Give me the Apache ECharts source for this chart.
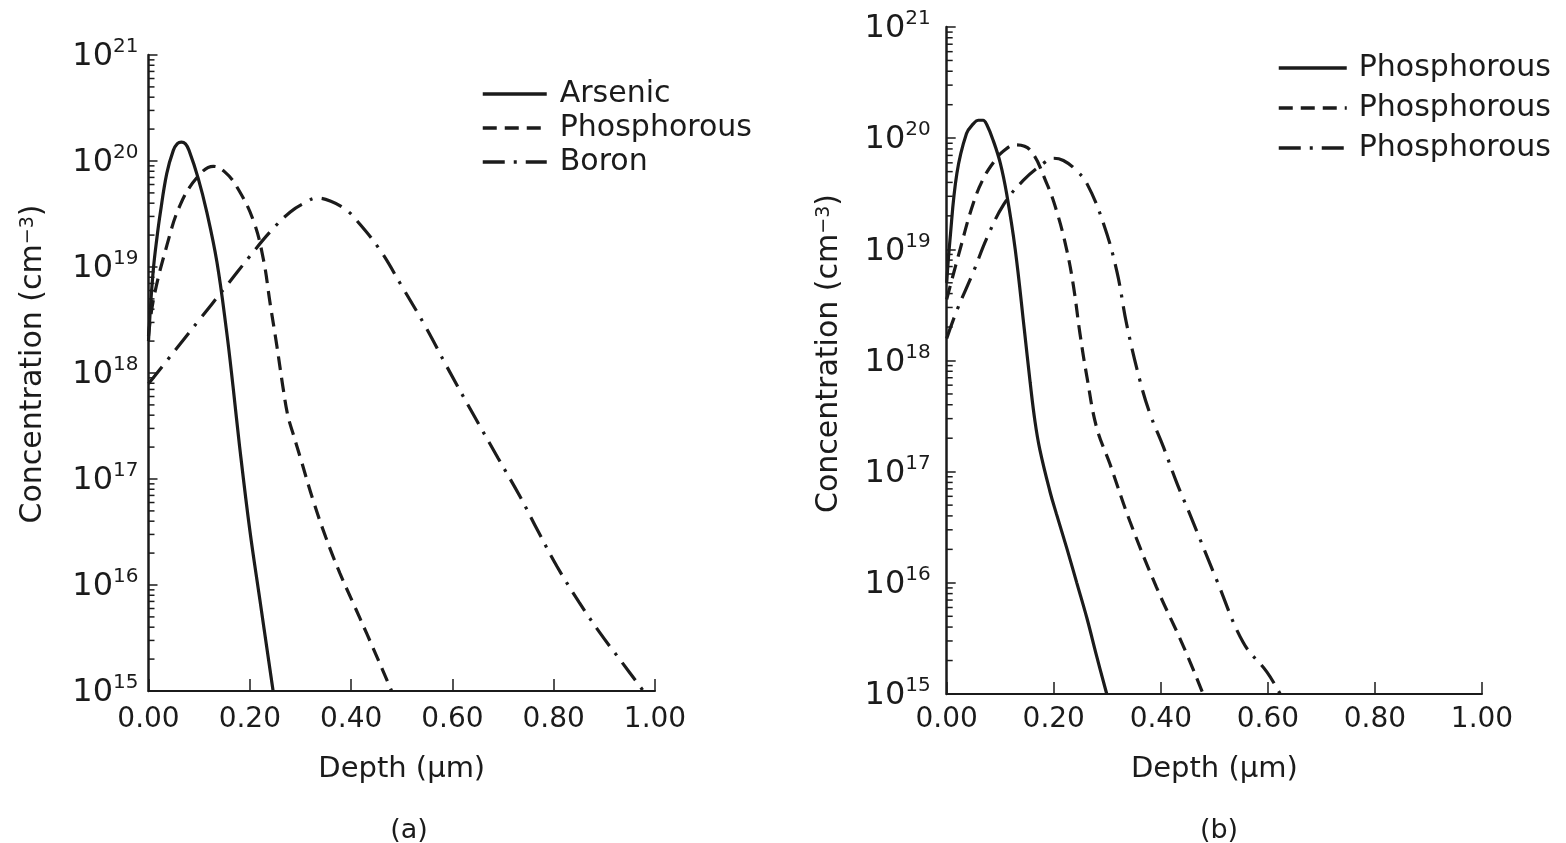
<!DOCTYPE html>
<html>
<head>
<meta charset="utf-8">
<title>Dopant depth profiles</title>
<script src="https://cdn.jsdelivr.net/npm/echarts@6/dist/echarts.min.js"></script>
<style>
  html, body { margin: 0; padding: 0; background: #ffffff; }
  #chart { width: 1566px; height: 843px; }
</style>
</head>
<body>
<div id="chart"></div>
<script>
// ---- Panel (a): depth in µm, concentration in cm^-3 ----
const depthArsenicA = [0, 0.005, 0.01, 0.016, 0.023, 0.036, 0.049, 0.057, 0.065, 0.073, 0.08, 0.098, 0.115, 0.135, 0.154, 0.167, 0.18, 0.2, 0.22, 0.246];
const concArsenicA  = [2.0e18, 5.0e18, 1.0e19, 1.78e19, 3.16e19, 7.6e19, 1.26e20, 1.46e20, 1.51e20, 1.45e20, 1.26e20, 6.9e19, 3.31e19, 1.12e19, 2.51e18, 7.4e17, 2.0e17, 3.3e16, 7.2e15, 1.0e15];

const depthPhosA = [0, 0.01, 0.036, 0.062, 0.095, 0.128, 0.15, 0.174, 0.207, 0.227, 0.24, 0.253, 0.265, 0.275, 0.286, 0.3, 0.325, 0.35, 0.378, 0.405, 0.431, 0.455, 0.48];
const concPhosA  = [2.24e18, 5.0e18, 1.58e19, 3.8e19, 6.9e19, 8.91e19, 7.94e19, 5.75e19, 2.75e19, 1.17e19, 4.57e18, 1.86e18, 7.6e17, 3.98e17, 2.63e17, 1.58e17, 6.3e16, 2.82e16, 1.29e16, 6.6e15, 3.47e15, 1.9e15, 1.0e15];

const depthBoronA = [0, 0.05, 0.1, 0.15, 0.2, 0.24, 0.28, 0.31, 0.332, 0.36, 0.39, 0.411, 0.457, 0.5, 0.549, 0.589, 0.64, 0.69, 0.733, 0.77, 0.806, 0.85, 0.891, 0.935, 0.977];
const concBoronA  = [7.9e17, 1.58e18, 3.16e18, 6.3e18, 1.26e19, 2.14e19, 3.31e19, 4.07e19, 4.47e19, 4.17e19, 3.47e19, 2.75e19, 1.45e19, 6.6e18, 2.63e18, 1.15e18, 4.17e17, 1.58e17, 6.9e16, 3.16e16, 1.51e16, 6.9e15, 3.55e15, 1.86e15, 1.0e15];

// ---- Panel (b): three phosphorous profiles ----
const depthPhosB1 = [0, 0.006, 0.019, 0.037, 0.05, 0.059, 0.068, 0.075, 0.087, 0.1, 0.112, 0.128, 0.145, 0.156, 0.165, 0.174, 0.193, 0.205, 0.225, 0.243, 0.262, 0.28, 0.299];
const concPhosB1  = [5.0e18, 1.2e19, 4.8e19, 1.1e20, 1.35e20, 1.45e20, 1.45e20, 1.32e20, 9.5e19, 6.0e19, 3.16e19, 1.0e19, 1.9e18, 6.3e17, 2.82e17, 1.58e17, 6.6e16, 4.17e16, 2.0e16, 1.0e16, 4.8e15, 2.2e15, 1.0e15];

const depthPhosB2 = [0, 0.025, 0.05, 0.07, 0.09, 0.105, 0.128, 0.156, 0.187, 0.205, 0.224, 0.237, 0.249, 0.262, 0.28, 0.305, 0.342, 0.392, 0.442, 0.479];
const concPhosB2  = [3.55e18, 1.0e19, 2.63e19, 4.47e19, 6.3e19, 7.6e19, 8.7e19, 7.8e19, 3.9e19, 2.24e19, 1.0e19, 4.6e18, 1.74e18, 7.1e17, 2.5e17, 1.17e17, 3.6e16, 9.1e15, 2.7e15, 1.0e15];

const depthPhosB3 = [0, 0.019, 0.05, 0.075, 0.106, 0.143, 0.18, 0.2, 0.218, 0.24, 0.262, 0.293, 0.318, 0.336, 0.361, 0.38, 0.405, 0.43, 0.454, 0.504, 0.554, 0.598, 0.623];
const concPhosB3  = [1.58e18, 2.82e18, 6.3e18, 1.26e19, 2.51e19, 4.17e19, 5.9e19, 6.6e19, 6.3e19, 5.25e19, 3.9e19, 1.7e19, 6.3e18, 2.14e18, 6.6e17, 3.3e17, 1.66e17, 7.9e16, 4.17e16, 1.07e16, 2.9e15, 1.58e15, 1.0e15];

// ---- Axis ranges and tick positions ----
const depthMin = 0, depthMax = 1, depthStep = 0.2;
const concMin = 1e15, concMax = 1e21;
const minorMantissas = [2, 3, 4, 5, 6, 7, 8, 9];
const decadeExponents = [15, 16, 17, 18, 19, 20];

const legendNamesA = ['Arsenic', 'Phosphorous', 'Boron'];
const legendNamesB = ['Phosphorous', 'Phosphorous', 'Phosphorous'];
const panelCaptions = ['(a)', '(b)'];

// ---- Styling ----
const INK = '#1b1b1b';
const FONT = 'DejaVu Sans';
const DASHED = [14, 8];
const DASH_DOT = [22, 9, 3, 9];

const pairs = (xs, ys) => xs.map((x, i) => [x, ys[i]]);
const minorTickValues = [];
decadeExponents.forEach(e => minorMantissas.forEach(m => minorTickValues.push([0, m * Math.pow(10, e)])));

function profile(name, xs, ys, dash, gi) {
  return {
    type: 'line', name: name, xAxisIndex: gi, yAxisIndex: gi,
    data: pairs(xs, ys), symbol: 'none', smooth: 0.4,
    lineStyle: { color: INK, width: 3.2, type: dash, cap: 'butt' },
    itemStyle: { color: INK }, z: 3, animation: false
  };
}

function minorTicks(gi) {
  return {
    type: 'custom', xAxisIndex: gi, yAxisIndex: gi, silent: true, animation: false, z: 4,
    data: minorTickValues,
    renderItem: (params, api) => {
      const p = api.coord([0, api.value(1)]);
      return { type: 'line', shape: { x1: p[0], y1: p[1], x2: p[0] + 6, y2: p[1] },
               style: { stroke: INK, lineWidth: 1.5 } };
    }
  };
}

function xAxisFor(gi, labelMargin, nameGap) {
  return {
    type: 'value', gridIndex: gi, min: depthMin, max: depthMax, interval: depthStep,
    name: 'Depth (μm)', nameLocation: 'middle', nameGap: nameGap,
    nameTextStyle: { fontFamily: FONT, fontSize: 29, color: INK },
    axisLine: { show: true, onZero: false, lineStyle: { color: INK, width: 2 } },
    axisTick: { show: true, inside: true, length: 12, lineStyle: { color: INK, width: 1.5 } },
    axisLabel: { margin: labelMargin, fontFamily: FONT, fontSize: 28, color: INK,
                 showMinLabel: true, showMaxLabel: true, formatter: v => v.toFixed(2) },
    splitLine: { show: false }
  };
}

function yAxisFor(gi, labelMargin, nameGap, nameShift) {
  return {
    type: 'log', logBase: 10, gridIndex: gi, min: concMin, max: concMax, splitNumber: 6,
    name: '{n|Concentration (cm}{s|−3}{n|)}', nameLocation: 'middle', nameRotate: 90, nameGap: nameGap,
    nameTextStyle: { fontFamily: FONT, color: INK, padding: [0, 0, 0, nameShift],
      rich: { n: { fontFamily: FONT, fontSize: 30, color: INK },
              s: { fontFamily: FONT, fontSize: 19, color: INK, verticalAlign: 'top', lineHeight: 10 } } },
    axisLine: { show: true, onZero: false, lineStyle: { color: INK, width: 2.5 } },
    axisTick: { show: true, inside: true, length: 9, lineStyle: { color: INK, width: 1.5 } },
    axisLabel: { margin: labelMargin, showMinLabel: true, showMaxLabel: true,
      formatter: v => '{b|10}{s|' + Math.round(Math.log10(v)) + '}',
      rich: { b: { fontFamily: FONT, fontSize: 32, color: INK, padding: [4, 0, 0, 0] },
              s: { fontFamily: FONT, fontSize: 20, color: INK, verticalAlign: 'top', lineHeight: 8 } } },
    splitLine: { show: false }, minorTick: { show: false }
  };
}

const legendBase = {
  orient: 'vertical', padding: 0, itemGap: 0, itemHeight: 14,
  selectedMode: false,
  itemStyle: { opacity: 0 },
  lineStyle: { width: 3.5 }
};

const option = {
  backgroundColor: '#ffffff',
  animation: false,
  title: [
    { text: panelCaptions[0], left: 404, top: 812, textAlign: 'center',
      textStyle: { fontFamily: FONT, fontSize: 27, fontWeight: 'normal', color: INK } },
    { text: panelCaptions[1], left: 1214, top: 812, textAlign: 'center',
      textStyle: { fontFamily: FONT, fontSize: 27, fontWeight: 'normal', color: INK } }
  ],
  grid: [
    { left: 148.5, right: 911, top: 55, bottom: 152, containLabel: false, outerBoundsMode: 'none' },
    { left: 946.7, right: 84, top: 27, bottom: 149, containLabel: false, outerBoundsMode: 'none' }
  ],
  xAxis: [xAxisFor(0, 15, 64), xAxisFor(1, 12, 61)],
  yAxis: [yAxisFor(0, 10, 100, 18), yAxisFor(1, 16, 102, 14)],
  legend: [
    Object.assign({}, legendBase, {
      left: 481, top: 77, itemWidth: 64,
      data: legendNamesA,
      textStyle: { fontFamily: FONT, fontSize: 30, color: INK, lineHeight: 34, padding: [0, 0, 0, 8] }
    }),
    Object.assign({}, legendBase, {
      left: 1277, top: 48, itemWidth: 68,
      data: legendNamesB.map((n, i) => n + '#' + (i + 1)),
      formatter: n => n.split('#')[0],
      textStyle: { fontFamily: FONT, fontSize: 30, color: INK, lineHeight: 40, padding: [0, 0, 0, 7] }
    })
  ],
  series: [
    profile(legendNamesA[0], depthArsenicA, concArsenicA, 'solid', 0),
    profile(legendNamesA[1], depthPhosA, concPhosA, DASHED, 0),
    profile(legendNamesA[2], depthBoronA, concBoronA, DASH_DOT, 0),
    profile(legendNamesB[0] + '#1', depthPhosB1, concPhosB1, 'solid', 1),
    profile(legendNamesB[1] + '#2', depthPhosB2, concPhosB2, DASHED, 1),
    profile(legendNamesB[2] + '#3', depthPhosB3, concPhosB3, DASH_DOT, 1),
    minorTicks(0),
    minorTicks(1)
  ]
};

const chart = echarts.init(document.getElementById('chart'), null, { renderer: 'canvas' });
chart.setOption(option);
</script>
</body>
</html>
